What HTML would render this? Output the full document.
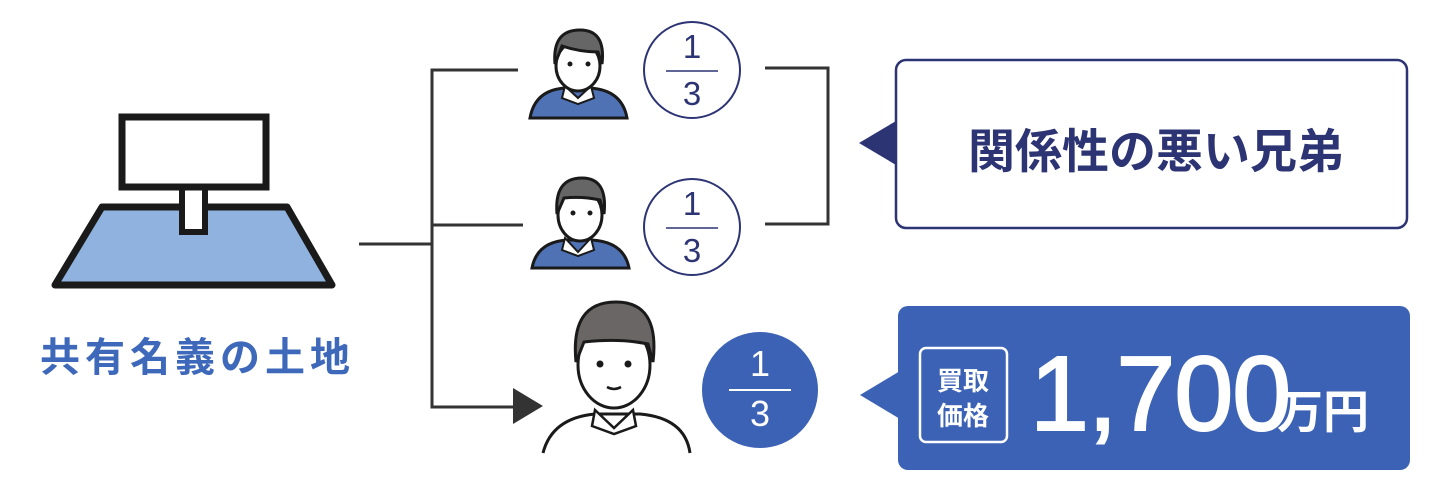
<!DOCTYPE html>
<html><head><meta charset="utf-8"><style>
html,body{margin:0;padding:0;background:#fff;}
svg{display:block;}
text{font-family:"Liberation Sans","Noto Sans CJK JP",sans-serif;}
</style></head><body>
<svg width="1440" height="492" viewBox="0 0 1440 492" xmlns="http://www.w3.org/2000/svg">
<!-- land icon -->
<polygon points="102,207 287,207 332,285 55,285" fill="#8fb3de" stroke="#1a1a1a" stroke-width="7" stroke-linejoin="round"/>
<rect x="182" y="185" width="23" height="47" fill="#fff" stroke="#1a1a1a" stroke-width="6"/>
<rect x="122" y="117" width="144" height="70" fill="#fff" stroke="#1a1a1a" stroke-width="7"/>
<text x="40" y="371" font-size="40" font-weight="bold" fill="#3e68ba" letter-spacing="5">共有名義の土地</text>

<!-- connectors -->
<g stroke="#333" stroke-width="3" fill="none">
<path d="M359,244 H432"/>
<path d="M518,70 H432 V407 H515"/>
<path d="M432,225 H523"/>
<path d="M765,68 H828 V224 H765"/>
</g>
<polygon points="513,388 543,406 513,424" fill="#333"/>

<!-- person 1 -->
<g stroke="#1a1a1a" stroke-width="3">
<path d="M530,118 Q535,90 565,88 L590,88 Q622,90 627,118 Z" fill="#4f72b5"/>
<path d="M565,86 L578,98 L591,86 L594,98 L578,104 L562,98 Z" fill="#fff" stroke-width="2"/>
<ellipse cx="578" cy="66" rx="22" ry="25" fill="#fff"/>
<path d="M555,64 Q552,30 580,30 Q606,30 602,64 L598,52 Q580,52 562,46 Z" fill="#666"/>
</g>
<circle cx="570" cy="64" r="2.5" fill="#1a1a1a"/><circle cx="588" cy="64" r="2.5" fill="#1a1a1a"/>
<!-- person 2 -->
<g stroke="#1a1a1a" stroke-width="3">
<path d="M532,268 Q537,242 567,240 L592,240 Q624,242 629,268 Z" fill="#4f72b5"/>
<path d="M565,238 L578,252 L591,238 L594,250 L578,256 L562,250 Z" fill="#fff" stroke-width="2"/>
<ellipse cx="580" cy="215" rx="22" ry="26" fill="#fff"/>
<path d="M557,214 Q554,178 582,178 Q608,178 604,214 L600,200 Q582,196 564,198 Z" fill="#666"/>
</g>
<circle cx="573" cy="213" r="2.5" fill="#1a1a1a"/><circle cx="590" cy="213" r="2.5" fill="#1a1a1a"/>
<!-- person 3 -->
<g stroke="#1a1a1a" stroke-width="3">
<path d="M543,453 Q552,418 595,414 L640,414 Q685,418 690,453" fill="#fff"/>
<path d="M595,410 L614,428 L633,410 L636,426 L614,434 L592,426 Z" fill="#fff" stroke-width="2.5"/>
<ellipse cx="614" cy="365" rx="36" ry="43" fill="#fff"/>
<path d="M576,362 Q570,302 616,302 Q660,302 653,362 L648,344 Q620,338 584,342 Z" fill="#6a6666"/>
</g>
<circle cx="600" cy="364" r="3.5" fill="#1a1a1a"/><circle cx="628" cy="364" r="3.5" fill="#1a1a1a"/>
<path d="M607,387 Q614,391 621,387" stroke="#1a1a1a" stroke-width="2.5" fill="none"/>

<!-- fractions -->
<g fill="#fff" stroke="#2c3474" stroke-width="2">
<circle cx="692" cy="70" r="48"/><circle cx="692" cy="227" r="48"/>
</g>
<g fill="#2c3474" font-size="33" text-anchor="middle">
<text x="692" y="58">1</text><text x="692" y="105">3</text>
<text x="692" y="215">1</text><text x="692" y="262">3</text>
</g>
<line x1="666" y1="71" x2="718" y2="71" stroke="#2c3474" stroke-width="1.5"/>
<line x1="666" y1="228" x2="718" y2="228" stroke="#2c3474" stroke-width="1.5"/>
<circle cx="760" cy="390" r="58" fill="#3c62b5"/>
<line x1="729" y1="390" x2="791" y2="390" stroke="#fff" stroke-width="2"/>
<g fill="#fff" font-size="36" text-anchor="middle"><text x="760" y="376">1</text><text x="760" y="426">3</text></g>

<!-- bubble 1 -->
<rect x="896" y="60" width="511" height="168" rx="10" fill="#fff" stroke="#2c3474" stroke-width="2.5"/>
<polygon points="859,143 896,121 896,165" fill="#2c3474"/>
<text x="1156" y="168" text-anchor="middle" font-size="47" font-weight="bold" fill="#2c3474">関係性の悪い兄弟</text>

<!-- bubble 2 -->
<rect x="898" y="306" width="512" height="164" rx="10" fill="#3c62b5"/>
<polygon points="860,395 900,371 900,419" fill="#3c62b5"/>
<rect x="920" y="348" width="87" height="94" rx="6" fill="none" stroke="#fff" stroke-width="2.5"/>
<g fill="#fff" font-size="26" font-weight="bold" text-anchor="middle">
<text x="963" y="390">買取</text><text x="963" y="425">価格</text>
</g>
<text x="1030" y="430" font-size="106" fill="#fff" stroke="#fff" stroke-width="2" letter-spacing="-1">1,700</text>
<text x="1277" y="428" font-size="46" font-weight="bold" fill="#fff">万円</text>
</svg>
</body></html>
